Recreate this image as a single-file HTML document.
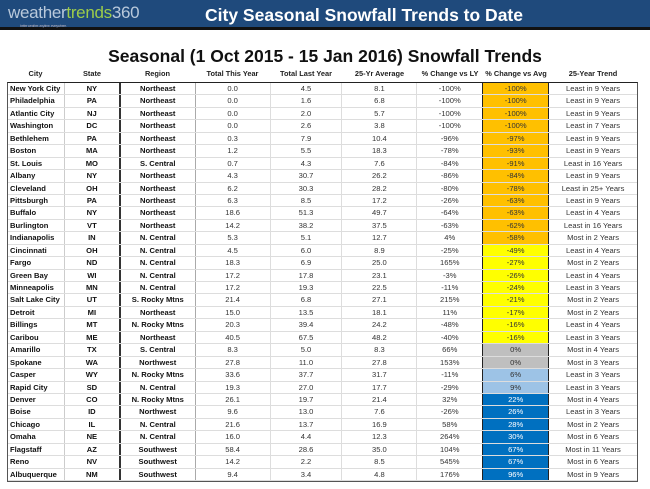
<!DOCTYPE html>
<html><head><meta charset="utf-8"><style>
*{margin:0;padding:0;box-sizing:border-box}
body{width:650px;height:489px;background:#fff;position:relative;overflow:hidden;font-family:"Liberation Sans",Arial,sans-serif}
.bar{position:absolute;left:0;top:0;width:650px;height:30px;background:#1f4a7c;border-bottom:3px solid #111}
.logo{position:absolute;left:8px;top:3px;font-size:17px;color:#b9c9db;letter-spacing:-0.3px}
.logo b{font-weight:normal;color:#9ccc4a}
.logo .t{position:absolute;left:12px;top:21px;font-size:3.5px;color:#aab;white-space:nowrap}
.ht{position:absolute;left:205px;top:5px;font-size:17.5px;font-weight:bold;color:#fff}
.title{position:absolute;left:0;width:650px;top:46px;text-align:center;font-size:17.5px;font-weight:bold;color:#111}
.hdr{position:absolute;top:69px;left:7px;height:13px;font-size:7.4px;font-weight:bold;color:#222}
.tbl{position:absolute;top:82px;left:7px;width:631px;border:1px solid #555;border-top:1.5px solid #222}
.r{height:12.45px;display:flex;border-bottom:1px solid #ddd;font-size:7.6px;color:#333}
.c{text-align:center;line-height:11.4px;white-space:nowrap;overflow:hidden}
.b{font-weight:bold;color:#111}
.c1{width:57px;text-align:left;padding-left:2px;border-right:1px solid #ccc}
.c2{width:56px;border-right:2px solid #333}
.c3{width:75px;border-right:1px solid #aaa}
.c4{width:75px;border-right:1px solid #ddd}
.c5{width:72px;border-right:1px solid #ddd}
.c6{width:75px;border-right:1px solid #ddd}
.c7{width:66px;border-right:1.5px solid #222}
.c8{width:66px;border-right:1.5px solid #222}
.c9{width:88px}
.o{background:#ffc000}.y{background:#ffff00}.g{background:#bfbfbf}.lb{background:#9dc3e6}.db{background:#0070c0;color:#fff}
.hdr span{position:absolute;top:0;text-align:center;white-space:nowrap}
</style></head><body>
<div class="bar"><div class="logo">weather<b>trends</b>360<div class="t">better weather. anytime. everywhere.</div></div><div class="ht">City Seasonal Snowfall Trends to Date</div></div>
<div class="title">Seasonal (1 Oct 2015 - 15 Jan 2016) Snowfall Trends</div>
<div class="hdr">
<span style="left:0;width:57px">City</span><span style="left:57px;width:56px">State</span><span style="left:113px;width:75px">Region</span><span style="left:188px;width:75px">Total This Year</span><span style="left:263px;width:72px">Total Last Year</span><span style="left:335px;width:75px">25-Yr Average</span><span style="left:410px;width:66px">% Change vs LY</span><span style="left:476px;width:66px">% Change vs Avg</span><span style="left:542px;width:88px">25-Year Trend</span>
</div>
<div class="tbl" id="t"></div>
<script>
var d=[
["New York City","NY","Northeast","0.0","4.5","8.1","-100%","-100%","Least in 9 Years","o"],
["Philadelphia","PA","Northeast","0.0","1.6","6.8","-100%","-100%","Least in 9 Years","o"],
["Atlantic City","NJ","Northeast","0.0","2.0","5.7","-100%","-100%","Least in 9 Years","o"],
["Washington","DC","Northeast","0.0","2.6","3.8","-100%","-100%","Least in 7 Years","o"],
["Bethlehem","PA","Northeast","0.3","7.9","10.4","-96%","-97%","Least in 9 Years","o"],
["Boston","MA","Northeast","1.2","5.5","18.3","-78%","-93%","Least in 9 Years","o"],
["St. Louis","MO","S. Central","0.7","4.3","7.6","-84%","-91%","Least in 16 Years","o"],
["Albany","NY","Northeast","4.3","30.7","26.2","-86%","-84%","Least in 9 Years","o"],
["Cleveland","OH","Northeast","6.2","30.3","28.2","-80%","-78%","Least in 25+ Years","o"],
["Pittsburgh","PA","Northeast","6.3","8.5","17.2","-26%","-63%","Least in 9 Years","o"],
["Buffalo","NY","Northeast","18.6","51.3","49.7","-64%","-63%","Least in 4 Years","o"],
["Burlington","VT","Northeast","14.2","38.2","37.5","-63%","-62%","Least in 16 Years","o"],
["Indianapolis","IN","N. Central","5.3","5.1","12.7","4%","-58%","Most in 2 Years","o"],
["Cincinnati","OH","N. Central","4.5","6.0","8.9","-25%","-49%","Least in 4 Years","y"],
["Fargo","ND","N. Central","18.3","6.9","25.0","165%","-27%","Most in 2 Years","y"],
["Green Bay","WI","N. Central","17.2","17.8","23.1","-3%","-26%","Least in 4 Years","y"],
["Minneapolis","MN","N. Central","17.2","19.3","22.5","-11%","-24%","Least in 3 Years","y"],
["Salt Lake City","UT","S. Rocky Mtns","21.4","6.8","27.1","215%","-21%","Most in 2 Years","y"],
["Detroit","MI","Northeast","15.0","13.5","18.1","11%","-17%","Most in 2 Years","y"],
["Billings","MT","N. Rocky Mtns","20.3","39.4","24.2","-48%","-16%","Least in 4 Years","y"],
["Caribou","ME","Northeast","40.5","67.5","48.2","-40%","-16%","Least in 3 Years","y"],
["Amarillo","TX","S. Central","8.3","5.0","8.3","66%","0%","Most in 4 Years","g"],
["Spokane","WA","Northwest","27.8","11.0","27.8","153%","0%","Most in 3 Years","g"],
["Casper","WY","N. Rocky Mtns","33.6","37.7","31.7","-11%","6%","Least in 3 Years","lb"],
["Rapid City","SD","N. Central","19.3","27.0","17.7","-29%","9%","Least in 3 Years","lb"],
["Denver","CO","N. Rocky Mtns","26.1","19.7","21.4","32%","22%","Most in 4 Years","db"],
["Boise","ID","Northwest","9.6","13.0","7.6","-26%","26%","Least in 3 Years","db"],
["Chicago","IL","N. Central","21.6","13.7","16.9","58%","28%","Most in 2 Years","db"],
["Omaha","NE","N. Central","16.0","4.4","12.3","264%","30%","Most in 6 Years","db"],
["Flagstaff","AZ","Southwest","58.4","28.6","35.0","104%","67%","Most in 11 Years","db"],
["Reno","NV","Southwest","14.2","2.2","8.5","545%","67%","Most in 6 Years","db"],
["Albuquerque","NM","Southwest","9.4","3.4","4.8","176%","96%","Most in 9 Years","db"]];
var h="";d.forEach(function(r){h+='<div class="r"><div class="c c1 b">'+r[0]+'</div><div class="c c2 b">'+r[1]+'</div><div class="c c3 b">'+r[2]+'</div><div class="c c4">'+r[3]+'</div><div class="c c5">'+r[4]+'</div><div class="c c6">'+r[5]+'</div><div class="c c7">'+r[6]+'</div><div class="c c8 '+r[9]+'">'+r[7]+'</div><div class="c c9">'+r[8]+'</div></div>';});
document.getElementById("t").innerHTML=h;
</script>
</body></html>
